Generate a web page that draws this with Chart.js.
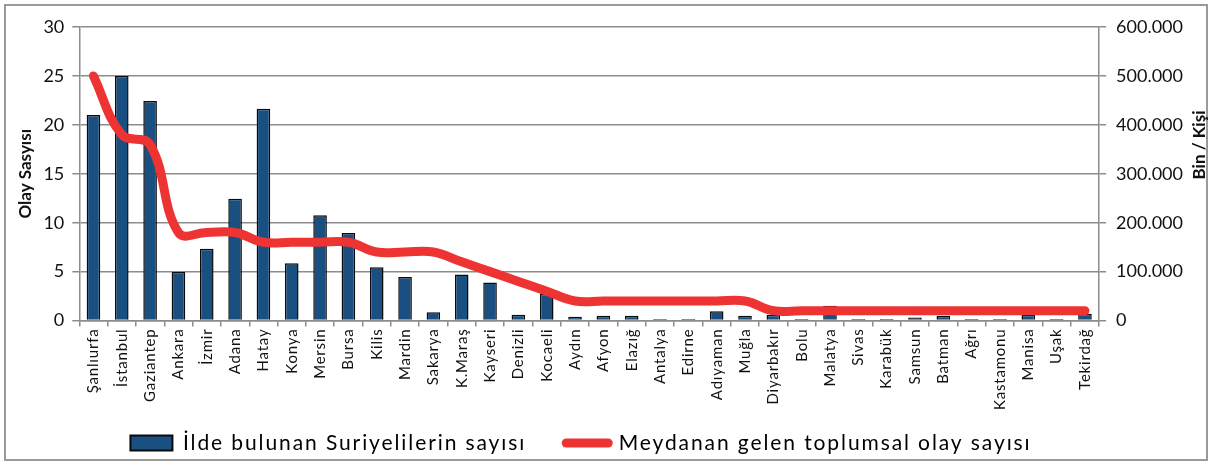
<!DOCTYPE html>
<html>
<head>
<meta charset="utf-8">
<script src="https://cdn.jsdelivr.net/npm/chart.js@4/dist/chart.umd.min.js"></script>
<style>
  html, body { margin: 0; padding: 0; background: #fff; }
  #frame { position: absolute; left: 4px; top: 4px; width: 1204px; height: 457px; border: 2px solid #9a9a9a; box-sizing: border-box; }
  #wrap { position: absolute; left: 0; top: 0; width: 1214px; height: 468px; }
</style>
</head>
<body>
<div id="frame"></div>
<div id="wrap"><canvas id="c" width="1214" height="468"></canvas></div>
<script>
const categories = ["Şanlıurfa","İstanbul","Gaziantep","Ankara","İzmir","Adana","Hatay","Konya","Mersin","Bursa","Kilis","Mardin","Sakarya","K.Maraş","Kayseri","Denizli","Kocaeli","Aydın","Afyon","Elazığ","Antalya","Edirne","Adıyaman","Muğla","Diyarbakır","Bolu","Malatya","Sivas","Karabük","Samsun","Batman","Ağrı","Kastamonu","Manisa","Uşak","Tekirdağ"];
const syrianCounts = [420000,500000,449000,99000,147000,249000,433000,117000,215000,179000,109000,89000,17000,94000,78000,12000,55000,8000,10000,10000,3000,3000,19000,10000,12000,3000,30000,3000,3000,6000,10000,3000,3000,12000,3000,14000];
const incidentCounts = [25,19,18,9,9,9,8,8,8,8,7,7,7,6,5,4,3,2,2,2,2,2,2,2,1,1,1,1,1,1,1,1,1,1,1,1];
const leftTicks = [0,5,10,15,20,25,30];
const rightTicks = [0,100000,200000,300000,400000,500000,600000];
const barLabel = "İlde bulunan Suriyelilerin sayısı";
const lineLabel = "Meydanan gelen toplumsal olay sayısı";
const leftTitle = "Olay Sasyısı";
const rightTitle = "Bin / Kişi";

const FONT = "Lato, 'Open Sans', sans-serif";
const GRID = "#8c8c8c";
const LEGEND_PAD = 40;
const LEGEND_HEIGHT = 48;
const LEGEND_CENTER_Y = 443;
const LEGEND_SHIFT_X = -18;

function fmtTR(v) {
  return v === 0 ? "0" : v.toString().replace(/\B(?=(\d{3})+(?!\d))/g, ".");
}

function wrapSpacing(chart, obj, sp, isLegend) {
  if (!obj || obj.__spaced) return;
  const origUpdate = obj.update;
  const origDraw = obj.draw;
  obj.update = function (...args) {
    const ctx = chart.ctx;
    const prev = ctx.letterSpacing;
    ctx.letterSpacing = sp;
    try {
      return origUpdate.apply(this, args);
    } finally {
      ctx.letterSpacing = prev;
      if (isLegend) { this.height = LEGEND_HEIGHT; }
    }
  };
  obj.draw = function (...args) {
    const ctx = chart.ctx;
    const prev = ctx.letterSpacing;
    const saved = isLegend ? { top: this.top, bottom: this.bottom, left: this.left, right: this.right, height: this.height } : null;
    if (isLegend) {
      const fs = this.options.labels.font.size;
      this.top = LEGEND_CENTER_Y - LEGEND_PAD - fs / 2;
      this.bottom = chart.height;
      this.height = this.bottom - this.top;
      this.left += LEGEND_SHIFT_X;
      this.right += LEGEND_SHIFT_X;
    }
    ctx.letterSpacing = sp;
    try { return origDraw.apply(this, args); } finally {
      ctx.letterSpacing = prev;
      if (saved) Object.assign(this, saved);
    }
  };
  obj.__spaced = true;
}

const spacingPlugin = {
  id: "spacing",
  beforeLayout(chart) {
    wrapSpacing(chart, chart.legend, "1.9px", true);
    wrapSpacing(chart, chart.scales.x, "0.8px", false);
  }
};

const rightTitlePlugin = {
  id: "rightTitle",
  afterDraw(chart) {
    const ctx = chart.ctx;
    ctx.save();
    ctx.translate(1200, 145);
    ctx.rotate(-Math.PI / 2);
    ctx.font = "bold 17px " + FONT;
    ctx.fillStyle = "#111";
    ctx.textAlign = "center";
    ctx.textBaseline = "middle";
    ctx.fillText(rightTitle, 0, 0);
    ctx.restore();
  }
};

new Chart(document.getElementById("c"), {
  data: {
    labels: categories,
    datasets: [
      {
        type: "bar",
        label: barLabel,
        data: syrianCounts,
        yAxisID: "y1",
        backgroundColor: "#1a4f82",
        borderColor: "#0a0a0a",
        borderWidth: 1.5,
        barPercentage: 0.48,
        categoryPercentage: 1.0,
        order: 2
      },
      {
        type: "line",
        label: lineLabel,
        data: incidentCounts,
        yAxisID: "y",
        borderColor: "#ee3333",
        backgroundColor: "#ee3333",
        borderWidth: 9,
        borderCapStyle: "round",
        borderJoinStyle: "round",
        tension: 0.4,
        pointRadius: 0,
        fill: false,
        order: 1
      }
    ]
  },
  options: {
    responsive: false,
    animation: false,
    devicePixelRatio: 1,
    layout: { padding: { left: 5, right: 21, top: 27, bottom: 8 } },
    plugins: {
      tooltip: { enabled: false },
      legend: {
        position: "bottom",
        labels: {
          font: { family: FONT, size: 21 },
          color: "#111",
          padding: LEGEND_PAD,
          usePointStyle: true,
          pointStyleWidth: 42,
          boxHeight: 15,
          sort: (a, b) => a.datasetIndex - b.datasetIndex,
          generateLabels(chart) {
            return chart.data.datasets.map((ds, i) => ({
              text: ds.label,
              datasetIndex: i,
              fillStyle: ds.type === "bar" ? "#1a4f82" : "#ee3333",
              strokeStyle: ds.type === "bar" ? "#0a0a0a" : "#ee3333",
              lineWidth: ds.type === "bar" ? 2 : 9,
              lineCap: "round",
              pointStyle: ds.type === "bar" ? "rect" : "line",
              hidden: false
            }));
          }
        }
      }
    },
    scales: {
      x: {
        offset: true,
        grid: { offset: true, drawOnChartArea: false, drawTicks: true, tickLength: 6, color: GRID, lineWidth: 1.5 },
        border: { color: GRID, width: 1.5 },
        ticks: {
          autoSkip: false, maxRotation: 90, minRotation: 90,
          font: { family: FONT, size: 15 }, color: "#111", padding: 2
        }
      },
      y: {
        position: "left",
        min: 0, max: 30,
        afterBuildTicks(axis) { axis.ticks = leftTicks.map(v => ({ value: v })); },
        grid: { color: GRID, lineWidth: 1.5, tickLength: 7 },
        border: { color: GRID, width: 1.5 },
        ticks: { font: { family: FONT, size: 18 }, color: "#111", padding: 8 },
        title: { display: true, text: leftTitle, font: { family: FONT, size: 17, weight: "bold" }, color: "#111", padding: { top: 10, bottom: 0 } }
      },
      y1: {
        position: "right",
        min: 0, max: 600000,
        afterBuildTicks(axis) { axis.ticks = rightTicks.map(v => ({ value: v })); },
        grid: { drawOnChartArea: false, color: GRID, lineWidth: 1.5, tickLength: 7 },
        border: { color: GRID, width: 1.5 },
        ticks: { font: { family: FONT, size: 18 }, color: "#111", padding: 10, callback: v => fmtTR(v) }
      }
    }
  },
  plugins: [spacingPlugin, rightTitlePlugin]
});
</script>
</body>
</html>
